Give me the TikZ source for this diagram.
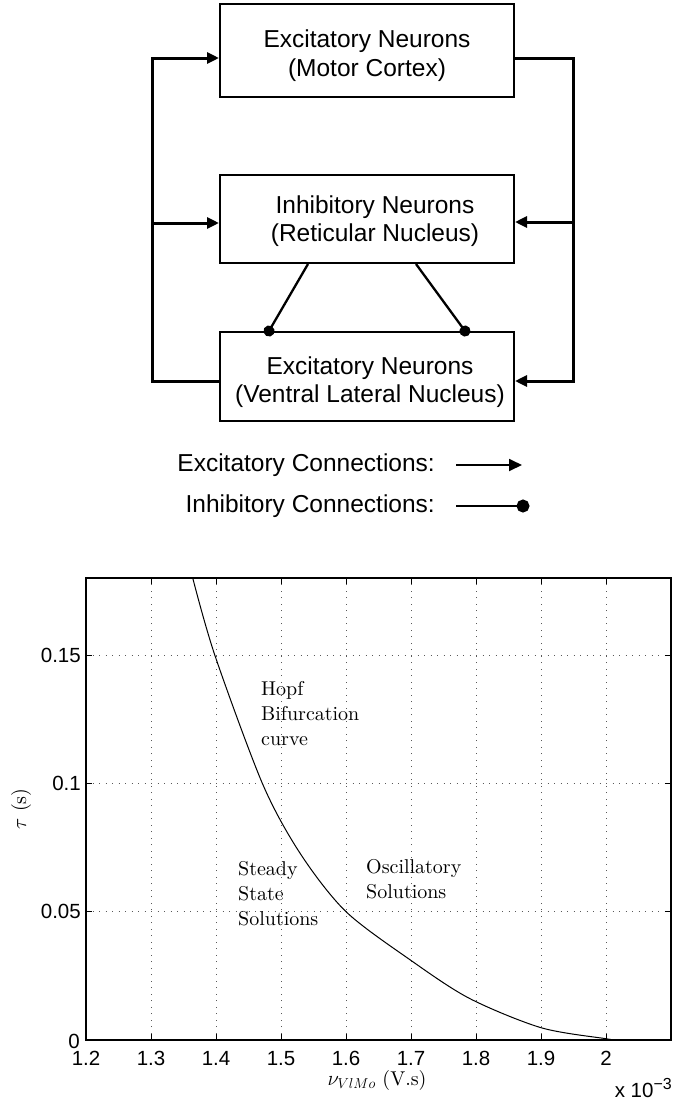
\documentclass[tikz,border=0pt]{standalone}
\usepackage{fontspec}
\newfontfamily\arial{Liberation Sans}
\newfontfamily\cmten{lmroman10-regular.otf}
\usetikzlibrary{arrows.meta,calc}
\begin{document}
\begin{tikzpicture}[x=1pt,y=-1pt,
  box/.style={draw, line width=2pt, minimum width=294pt, inner sep=0pt},
  btext/.style={font=\arial\fontsize{24.5}{28.3}\selectfont, align=center, inner sep=0pt},
  exc/.style={line width=3pt, line join=miter, -{Triangle[length=12pt,width=11pt]}},
  inh/.style={line width=2.3pt, -{Circle[length=11pt]}, shorten >=-5.5pt},
  leg/.style={font=\arial\fontsize{24.5}{28.3}\selectfont, inner sep=0pt},
  gridl/.style={black!65, line width=0.6pt, dash pattern=on 0.8pt off 5.7pt},
  tickm/.style={line width=1pt},
  axisl/.style={line width=1.4pt},
  curvel/.style={line width=1pt},
  ticklbl/.style={font=\arial\fontsize{20.5}{24}\selectfont, inner sep=0pt},
  ptext/.style={font=\cmten\fontsize{20}{25}\selectfont, align=left, inner sep=0pt, anchor=north west}
]
\useasboundingbox (0,0) rectangle (673,1103);

% ---- block diagram ----
\node[box, minimum height=93pt,
  label={[btext, yshift=-5pt]center:{Excitatory Neurons\\(Motor Cortex)}}] (mc) at (367,50.8) {};
\node[box, minimum height=88pt,
  label={[btext, yshift=-2pt, xshift=8pt]center:{Inhibitory Neurons\\(Reticular Nucleus)}}] (rn) at (367,219) {};
\node[box, minimum height=89pt,
  label={[btext, yshift=-6pt, xshift=3pt]center:{Excitatory Neurons\\(Ventral Lateral Nucleus)}}] (vl) at (367,376.5) {};

\coordinate (lt) at (152,58);
\coordinate (lm) at (152,223);
\coordinate (lb) at (152,381);
\coordinate (rt) at (573,58);
\coordinate (rm) at (573,222);
\coordinate (rb) at (573,381);

\draw[exc] (vl.west |- lb) -- (lb) -- (lt) -- (mc.west |- lt);
\draw[exc] (lm) -- (rn.west |- lm);
\draw[exc] (mc.east |- rt) -- (rt) -- (rb) -- (vl.east |- rb);
\draw[exc] (rm) -- (rn.east |- rm);

\draw[inh] ([xshift=-59pt]rn.south) -- ([xshift=-98pt]vl.north);
\draw[inh] ([xshift=49pt]rn.south) -- ([xshift=98pt]vl.north);

% ---- legend ----
\node[leg, anchor=east] (le) at (435,465) {Excitatory Connections:};
\coordinate (lee) at (522,465);
\draw[line width=1.8pt, -{Triangle[length=13pt,width=12pt]}] ([xshift=21pt]le.east) -- (lee);
\node[leg, anchor=east] (li) at (435,506) {Inhibitory Connections:};
\coordinate (lie) at (523,506);
\draw[line width=1.8pt, -{Circle[length=13pt]}, shorten >=-6.5pt] ([xshift=21pt]li.east) -- (lie);

% ---- plot ----
\begin{scope}[shift={(86,1040)}, x=65pt, y=25.667pt]
  \foreach \i in {1,...,8} \draw[gridl] (\i,0) -- (\i,18);
  \foreach \j in {5,10,15} \draw[gridl] (0,\j) -- (9,\j);
  \foreach \i in {1,...,8} {
    \draw[tickm] (\i,0) -- ++(0,6pt);
    \draw[tickm] (\i,18) -- ++(0,-6pt);
  }
  \foreach \j in {5,10,15} {
    \draw[tickm] (0,\j) -- ++(6pt,0);
    \draw[tickm] (9,\j) -- ++(-6pt,0);
  }
  \draw[axisl] (0,0) rectangle (9,18);
  \draw[curvel] plot[smooth, tension=0.5] coordinates {
    (1.642,18) (1.985,14.97) (2.718,9.97) (3.3,7.25) (4.0,5.0)
    (5.0,3.1) (5.9,1.62) (7.0,0.48) (8.0,0.05) (8.15,0)};
  \foreach \i/\t in {0/1.2,1/1.3,2/1.4,3/1.5,4/1.6,5/1.7,6/1.8,7/1.9,8/2}
    \node[ticklbl] (xt\i) at ([yshift=-18.5pt]\i,0) {\t};
  \foreach \j/\t in {5/0.05,10/0.1,15/0.15}
    \node[ticklbl, anchor=east] (yt\j) at ([xshift=-5pt]0,\j) {\t};
  \node[ticklbl, anchor=east] (yt0) at ([xshift=-6pt,yshift=-1pt]0,0) {0};
\end{scope}

\node[ticklbl, anchor=base east] (xscale) at (672,1097) {x 10\raisebox{8pt}{\fontsize{16}{16}\selectfont −3}};

\node[ptext] (hopf) at (261,681.1) {Hopf\\Bifurcation\\curve};
\node[ptext] (steady) at (238,861.1) {Steady\\State\\Solutions};
\node[ptext] (osc) at (366,859.1) {Oscillatory\\Solutions};

\node[font=\cmten\fontsize{20}{24}\selectfont, inner sep=0pt] (xlab) at (377,1080) {$\nu_{VlMo}$ (V.s)};
\node[font=\cmten\fontsize{20}{24}\selectfont, inner sep=0pt, rotate=90] (ylab) at (21,809) {$\tau$ (s)};
\end{tikzpicture}
\end{document}
